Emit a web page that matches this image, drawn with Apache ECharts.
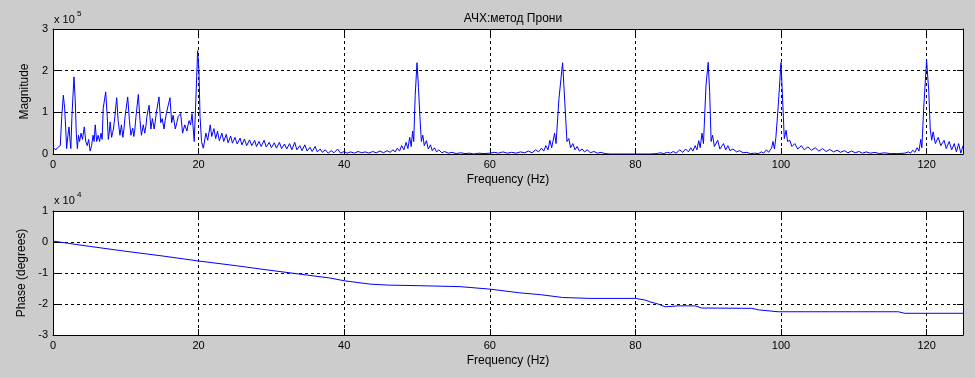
<!DOCTYPE html>
<html>
<head>
<meta charset="utf-8">
<title>АЧХ:метод Прони</title>
<script src="https://cdn.jsdelivr.net/npm/echarts@6/dist/echarts.min.js"></script>
<style>
html,body{margin:0;padding:0;background:#cccccc;}
#main{width:975px;height:378px;}
</style>
</head>
<body>
<div id="main"></div>
<script>
// частоты в Гц, амплитуда в единицах x 10^5
var magBand0to20 = [[0,0.15],[0.2,0.12],[0.4,0.1],[0.6,0.15],[0.8,0.12],[1.0,0.2],[1.2,0.9],[1.42,1.41],[1.6,1.1],[1.75,0.6],[1.87,0.13],
    [2.05,0.45],[2.2,0.65],[2.35,0.3],[2.45,0.13],[2.6,0.9],[2.88,1.85],[3.05,1.3],[3.2,0.5],[3.35,0.13],[3.5,0.45],[3.65,0.3],
    [3.85,0.5],[4.05,0.35],[4.3,0.65],[4.5,0.3],[4.7,0.2],[4.9,0.35],[5.1,0.07],[5.3,0.2],[5.5,0.45],[5.65,0.3],[5.8,0.7],[6.0,0.3],[6.2,0.45],
    [6.4,0.3],[6.6,0.5],[6.75,0.35],[6.9,1.1],[7.24,1.49],[7.45,0.9],[7.6,0.35],[7.75,0.55],[7.85,0.77],[8.05,0.4],[8.2,0.52],[8.3,0.6],[8.5,0.9],[8.75,1.35],[8.95,0.8],[9.2,0.45],
    [9.4,0.7],[9.6,0.4],[9.75,0.6],[9.9,0.9],[10.26,1.37],[10.5,0.8],[10.7,0.45],[10.95,0.62],[11.1,0.42],[11.25,0.6],[11.4,0.9],[11.72,1.43],[11.95,0.8],
    [12.15,0.45],[12.4,0.7],[12.6,0.5],[12.75,0.65],[12.9,0.9],[13.2,1.17],[13.45,0.6],[13.65,0.85],[13.9,0.6],[14.05,0.78],[14.2,1.0],[14.56,1.37],[14.8,0.75],
    [15.0,0.85],[15.25,0.6],[15.4,0.8],[15.6,1.0],[16.07,1.35],[16.3,0.75],[16.5,0.93],[16.8,0.6],[17.0,0.75],[17.2,0.9],[17.54,0.97],[17.8,0.5],[18.1,0.7],
    [18.4,0.55],[18.55,0.7],[18.7,0.8],[18.9,0.7],[19.1,0.97],[19.4,0.3],[19.6,1.2],[19.87,2.48],[20.05,2.0],[20.2,0.9],[20.4,0.3],[20.65,0.14]];
var magTail20to46 = [[21.0,0.5],[21.25,0.33],[21.6,0.7],[21.8,0.42],[22.1,0.61],[22.35,0.37],[22.6,0.55],[22.85,0.32],[23.2,0.5],
    [23.45,0.3],[23.8,0.47],[24.05,0.27],[24.4,0.43],[24.65,0.26],[25.0,0.4],[25.3,0.24],[25.7,0.38],[25.95,0.22],[26.3,0.36],[26.6,0.2],
    [27.0,0.34],[27.3,0.2],[27.7,0.33],[27.95,0.18],[28.3,0.3],[28.6,0.18],[29.0,0.33],[29.3,0.17],[29.7,0.28],[30.0,0.15],[30.4,0.27],
    [30.7,0.14],[31.1,0.28],[31.4,0.13],[31.8,0.24],[32.1,0.12],[32.5,0.25],[32.8,0.1],[33.2,0.28],[33.5,0.1],[33.9,0.2],[34.2,0.08],
    [34.6,0.22],[34.9,0.07],[35.3,0.16],[35.6,0.06],[36.0,0.18],[36.3,0.05],[36.7,0.12],[37.0,0.04],[37.4,0.1],[37.8,0.02],[38.2,0.08],
    [38.6,0.03],[39.1,0.12],[39.5,0.02],[40.0,0.06],[40.4,0.02],[40.9,0.05],[41.4,0.02],[41.9,0.06],[42.4,0.03],[42.9,0.05],[43.4,0.02],
    [43.9,0.06],[44.4,0.03],[44.9,0.07],[45.4,0.03],[45.9,0.08],[46.3,0.04]];
var magPeak50 = [[46.7,0.1],[47.0,0.05],[47.3,0.14],[47.6,0.07],[47.9,0.2],[48.2,0.1],[48.5,0.28],[48.75,0.13],[49.0,0.4],[49.2,0.18],
    [49.4,0.55],[49.55,0.3],[49.75,1.4],[50.0,2.19],[50.2,1.6],[50.4,0.9],[50.6,0.3],[50.8,0.45],[51.0,0.2],[51.3,0.32],[51.55,0.12],
    [51.85,0.22],[52.1,0.08],[52.4,0.15],[52.7,0.05],[53.0,0.1],[53.4,0.03],[53.8,0.06],[54.3,0.02],[54.8,0.04],[55.4,0.01],[56.0,0.03],
    [56.6,0.01],[57.2,0.02],[57.8,0.0],[58.5,0.02],[59.2,0.01],[60.0,0.02],[60.6,0.04],[61.2,0.02],[61.8,0.05],[62.4,0.02],[63.0,0.04],
    [63.6,0.02],[64.2,0.05],[64.8,0.03]];
var magPeak70 = [[65.3,0.07],[65.8,0.03],[66.3,0.1],[66.7,0.05],[67.1,0.14],[67.4,0.07],[67.7,0.2],[68.0,0.1],[68.25,0.33],[68.5,0.15],
    [68.9,0.5],[69.1,0.25],[69.5,1.33],[70.0,2.19],[70.3,1.25],[70.6,0.3],[70.85,0.37],[71.1,0.15],[71.4,0.25],[71.7,0.1],[72.0,0.18],
    [72.3,0.07],[72.7,0.12],[73.0,0.05],[73.4,0.1],[73.8,0.03],[74.3,0.06],[74.8,0.02],[75.3,0.04],[75.8,0.01],[76.5,0.0],[78.0,0.0],
    [80.0,0.0],[82.0,0.0],[83.0,0.01]];
var magPeak90 = [[83.4,0.03],[83.9,0.01],[84.4,0.04],[84.8,0.02],[85.2,0.06],[85.6,0.02],[86.1,0.1],[86.5,0.04],[86.9,0.12],[87.3,0.05],
    [87.6,0.15],[87.9,0.07],[88.2,0.2],[88.45,0.1],[88.7,0.32],[88.9,0.15],[89.15,0.5],[89.35,0.25],[89.7,1.65],[90.0,2.2],[90.2,1.5],
    [90.4,0.3],[90.6,0.45],[90.85,0.18],[91.3,0.33],[91.6,0.12],[92.1,0.25],[92.4,0.1],[92.7,0.2],[93.0,0.08],[93.4,0.12],[93.9,0.05],
    [94.3,0.08],[94.8,0.03],[95.3,0.04],[95.8,0.01],[96.4,0.02],[96.9,0.01],[97.3,0.05],[97.6,0.02],[98.0,0.1],[98.3,0.04],[98.7,0.14],
    [98.9,0.3],[99.1,0.12],[99.3,0.4],[99.6,1.1],[100.0,2.2]];
var magPeak100to125 = [[100.3,1.0],[100.45,0.37],[100.7,0.57],[100.9,0.3],[101.2,0.33],[101.5,0.18],[101.9,0.25],[102.3,0.12],[102.8,0.2],
    [103.2,0.1],[103.7,0.17],[104.2,0.09],[104.7,0.15],[105.2,0.07],[105.7,0.13],[106.2,0.06],[106.7,0.11],[107.2,0.05],[107.7,0.09],
    [108.2,0.04],[108.7,0.08],[109.2,0.03],[109.7,0.07],[110.2,0.03],[110.7,0.06],[111.2,0.02],[111.7,0.05],[112.3,0.02],[112.9,0.04],
    [113.5,0.01],[114.2,0.03],[115.0,0.01],[116.0,0.01],[117.0,0.02],[117.5,0.05],[117.8,0.02],[118.1,0.09],[118.4,0.04],[118.7,0.15],
    [118.95,0.07],[119.2,0.35],[119.35,0.15],[119.6,1.1],[120.0,2.25],[120.3,1.5],[120.5,0.6],[120.7,0.33],[120.9,0.53],[121.2,0.25],
    [121.6,0.4],[121.95,0.2],[122.4,0.33],[122.7,0.13],[123.1,0.3],[123.45,0.1],[123.8,0.25],[124.1,0.05],[124.4,0.25],[124.7,0.02],
    [125.0,0.2]];

// фаза, единицы x 10^4 градусов
var phaseFreq = [0, 2, 5, 9.7, 15, 19.9, 25, 29.4, 35, 38, 40, 43.6, 46, 50.4, 55.9, 60, 64.1, 67, 70, 73.8, 80, 81.3, 82, 83.1, 84.1,
    85.9, 88.2, 89.1, 96, 96.9, 99.6, 116.1, 117, 125];
var phaseDeg = [0.03, -0.04, -0.14, -0.29, -0.45, -0.61, -0.76, -0.9, -1.07, -1.16, -1.25, -1.36, -1.39, -1.41, -1.44, -1.52, -1.64, -1.7,
    -1.79, -1.82, -1.82, -1.87, -1.93, -2.0, -2.09, -2.06, -2.06, -2.13, -2.14, -2.19, -2.25, -2.25, -2.3, -2.3];

var freqMax = 125;
var magAxis = [0, 3];
var phaseAxis = [-3, 1];
var magExp = '5';
var phaseExp = '4';

var magData = [].concat(magBand0to20, magTail20to46, magPeak50, magPeak70, magPeak90, magPeak100to125);
var phaseData = phaseFreq.map(function(f, i){ return [f, phaseDeg[i]]; });

var txt = '#000';
var font = 'Liberation Sans, Arial, Helvetica, sans-serif';
var gridLine = { show: true, lineStyle: { color: '#000', width: 1, type: [3, 3] } };
var axLine = { show: true, onZero: false, lineStyle: { color: '#000', width: 1 } };
var axTick = { show: true, inside: true, length: 6, lineStyle: { color: '#000' } };

function freqAxis(grid, name){
    return {
        type: 'value', gridIndex: grid, min: 0, max: freqMax, interval: 20,
        name: name, nameLocation: 'middle', nameGap: 20,
        nameTextStyle: { color: txt, fontSize: 12, fontFamily: font },
        axisLine: axLine, axisTick: axTick, splitLine: gridLine,
        axisLabel: { color: txt, fontSize: 11, fontFamily: font, margin: 5, showMaxLabel: false }
    };
}
function mirrorX(grid){
    return {
        type: 'value', gridIndex: grid, position: 'top', min: 0, max: freqMax, interval: 20,
        axisLine: axLine, axisTick: axTick, splitLine: { show: false }, axisLabel: { show: false }
    };
}
function valAxis(grid, range, name, gap){
    return {
        type: 'value', gridIndex: grid, min: range[0], max: range[1], interval: 1,
        name: name, nameLocation: 'middle', nameGap: gap, nameRotate: 90,
        nameTextStyle: { color: txt, fontSize: 12, fontFamily: font },
        axisLine: axLine, axisTick: axTick, splitLine: gridLine,
        axisLabel: { color: txt, fontSize: 11, fontFamily: font, margin: 5 }
    };
}
function mirrorY(grid, range){
    return {
        type: 'value', gridIndex: grid, position: 'right', min: range[0], max: range[1], interval: 1,
        axisLine: axLine, axisTick: axTick, splitLine: { show: false }, axisLabel: { show: false }
    };
}
function expText(x, y, s, size){
    return { type: 'text', left: x, top: y, silent: true,
        style: { text: s, fill: txt, fontSize: size, fontFamily: font } };
}

var option = {
    backgroundColor: '#cccccc',
    animation: false,
    title: {
        text: 'АЧХ:метод Прони', left: 508, top: 8, textAlign: 'center',
        textStyle: { color: txt, fontSize: 12, fontWeight: 'normal', fontFamily: font }
    },
    grid: [
        { left: 53, top: 29, width: 910, height: 125, backgroundColor: '#fff', show: true, borderWidth: 0 },
        { left: 53, top: 211, width: 910, height: 124, backgroundColor: '#fff', show: true, borderWidth: 0 }
    ],
    xAxis: [ freqAxis(0, 'Frequency (Hz)'), mirrorX(0), freqAxis(1, 'Frequency (Hz)'), mirrorX(1) ],
    yAxis: [ valAxis(0, magAxis, 'Magnitude', 16), mirrorY(0, magAxis), valAxis(1, phaseAxis, 'Phase (degrees)', 22), mirrorY(1, phaseAxis) ],
    graphic: [
        expText(54, 14, 'x 10', 11), expText(77, 10, magExp, 8),
        expText(54, 195, 'x 10', 11), expText(77, 191, phaseExp, 8)
    ],
    series: [
        { type: 'line', xAxisIndex: 0, yAxisIndex: 0, data: magData, showSymbol: false, symbol: 'none',
          lineStyle: { color: '#0000ff', width: 1 } },
        { type: 'line', xAxisIndex: 2, yAxisIndex: 2, data: phaseData, showSymbol: false, symbol: 'none',
          lineStyle: { color: '#0000ff', width: 1 } }
    ]
};

var chart = echarts.init(document.getElementById('main'));
chart.setOption(option);
</script>
</body>
</html>
